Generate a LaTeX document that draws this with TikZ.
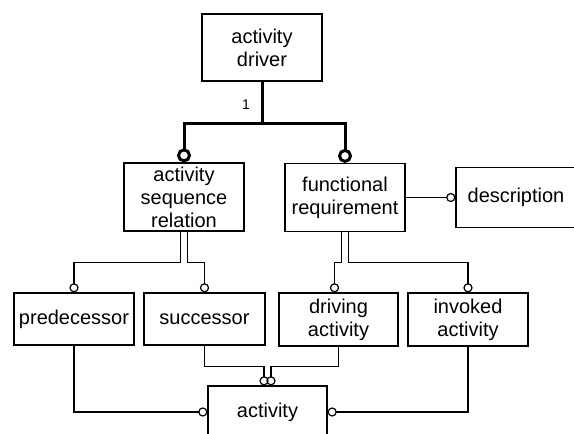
\documentclass[tikz,border=0pt]{standalone}
\usepackage{fontspec}
\setmainfont{Liberation Sans}
\usetikzlibrary{arrows.meta}
\usetikzlibrary{calc}
\tikzstyle{entity_box}=[draw=black, line width=0.6pt, align=center, inner sep=0pt, font=\fontsize{10}{11.5}\selectfont]
\tikzstyle{rel_line}=[draw=black, line width=0.6pt, -{Circle[open,length=4.6pt]}]
\tikzstyle{rel_thick}=[draw=black, line width=1.5pt]
\begin{document}
\begin{tikzpicture}[x=0.5pt, y=-0.5pt]
          \useasboundingbox (0,0) rectangle (574,434);
          \node[entity_box, minimum width=60pt, minimum height=33.5pt] (driver) at (262,47.5){activity\\driver};
          \node[entity_box, minimum width=60pt, minimum height=34pt] (asr) at (184,197){activity\\sequence\\relation};
          \node[entity_box, minimum width=60pt, minimum height=34pt] (fr) at (345,197.5){functional\\requirement};
          \node[entity_box, minimum width=60pt, minimum height=30pt] (desc) at (516,197.5){description};
          \node[entity_box, minimum width=60pt, minimum height=26pt] (pred) at (74,319){predecessor};
          \node[entity_box, minimum width=60.5pt, minimum height=26pt] (succ) at (204.5,319){successor};
          \node[entity_box, minimum width=59.5pt, minimum height=26.5pt] (drv) at (338.5,319.5){driving\\activity};
          \node[entity_box, minimum width=60pt, minimum height=26.5pt] (inv) at (468,319.5){invoked\\activity};
          \node[entity_box, minimum width=59.5pt, minimum height=26pt] (act) at (267.5,412){activity};
          \node[font=\fontsize{7}{8}\selectfont] (one) at (246,105){1};
          % driver to its two parts
          \coordinate (split) at (262,123);
          \draw[rel_thick] (driver.south) -- (split);
          \draw[rel_thick, -{Circle[open,length=7pt]}] (split) -| (asr.north);
          \draw[rel_thick, -{Circle[open,length=7pt]}] (split) -| (fr.north);
          \draw[rel_line] (fr.east) -- (desc.west);
          % sequence relation
          \draw[rel_line] ($(asr.south)+(-3.5,0)$) -- ++(0,31) -| (pred.north);
          \draw[rel_line] ($(asr.south)+(3.5,0)$) -- ++(0,31) -| (succ.north);
          \draw[rel_line] ($(fr.south)+(-3.5,0)$) -- ++(0,30.5) -| ($(drv.north)+(-4,0)$);
          \draw[rel_line] ($(fr.south)+(3.5,0)$) -- ++(0,30.5) -| (inv.north);
          % roles to activity
          \draw[rel_line] (pred.south) |- (act.west);
          \draw[rel_line] (succ.south) -- ++(0,21) -| ($(act.north)+(-3.5,0)$);
          \draw[rel_line] (drv.south) -- ++(0,20) -| ($(act.north)+(3.5,0)$);
          \draw[rel_line] (inv.south) |- (act.east);
        \end{tikzpicture}
\end{document}
